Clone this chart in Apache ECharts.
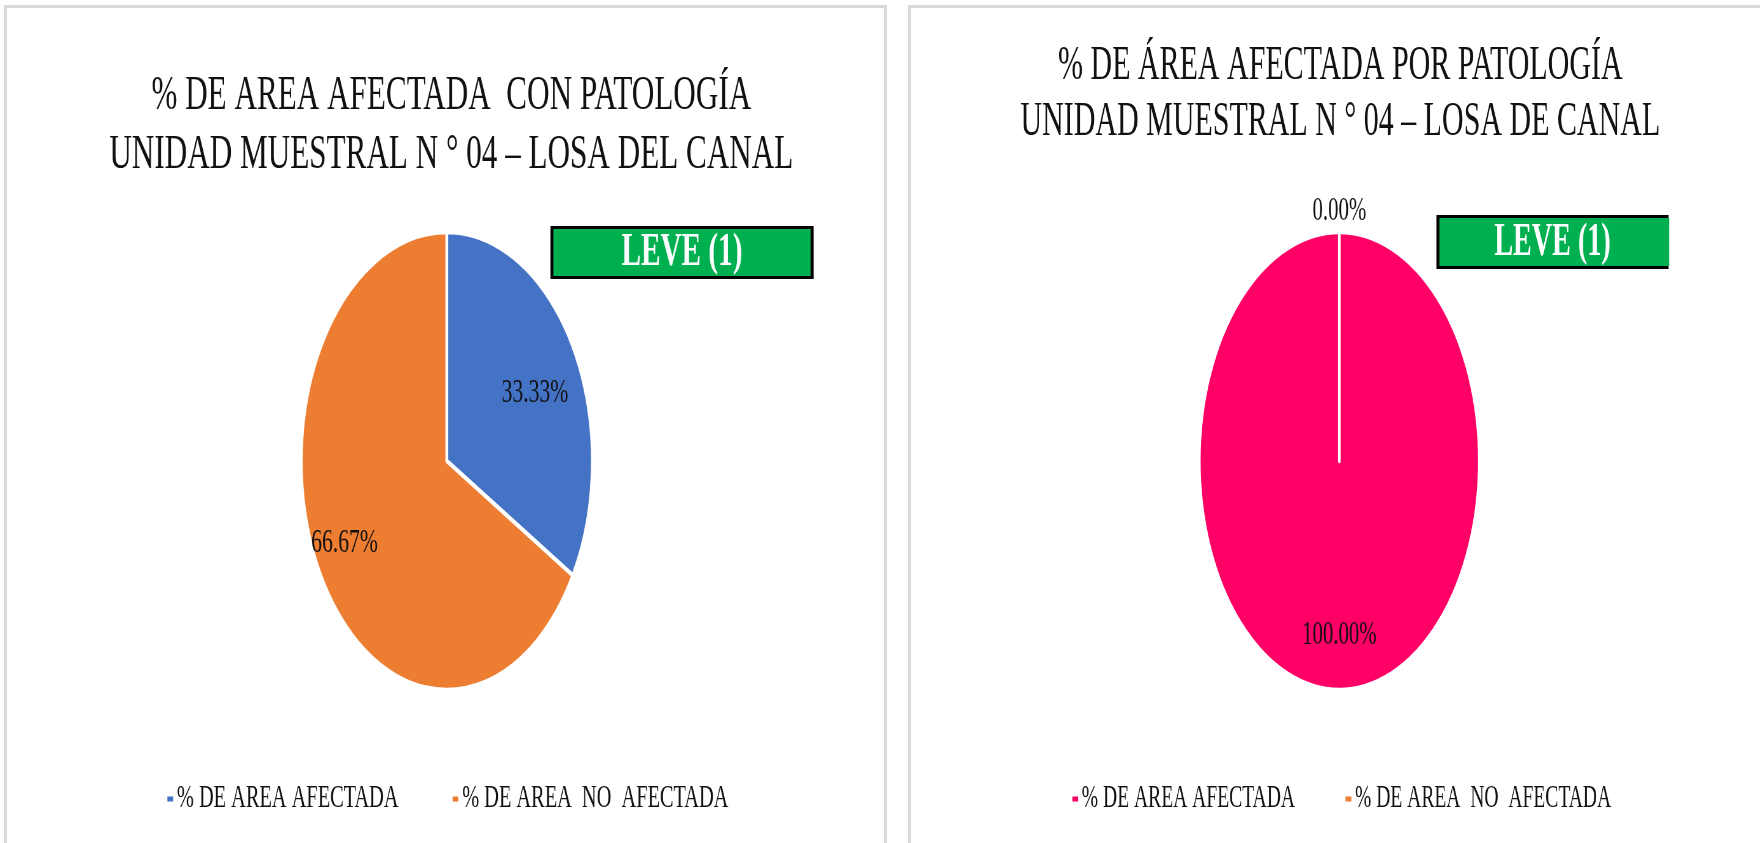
<!DOCTYPE html>
<html>
<head>
<meta charset="utf-8">
<script src="https://cdn.jsdelivr.net/npm/echarts@6/dist/echarts.min.js"></script>
<style>
  html, body { margin: 0; padding: 0; background: #fff; width: 1760px; height: 843px; overflow: hidden; }
  .frame { position: absolute; border: 3px solid #d9d9d9; box-sizing: border-box; }
  .panel { position: absolute; top: 0; height: 843px; overflow: hidden; }
  .chart { position: absolute; left: 0; top: 0; height: 843px; transform-origin: 0 0; }
</style>
</head>
<body>
<div class="frame" style="left:4px;top:5px;width:883px;height:900px"></div>
<div class="frame" style="left:908px;top:5px;width:900px;height:900px"></div>
<div class="panel" style="left:0;width:897px"><div class="chart" id="chartA"></div></div>
<div class="panel" style="left:897px;width:863px"><div class="chart" id="chartB"></div></div>

<script>
// ---- data ----
const legendNames = ['% DE AREA AFECTADA', '% DE AREA  NO  AFECTADA'];

const titleA = ['% DE AREA AFECTADA  CON PATOLOGÍA', 'UNIDAD MUESTRAL N ° 04 – LOSA DEL CANAL'];
const valuesA = [33.33, 66.67];
const colorsA = ['#4472C4', '#ED7D31'];

const titleB = ['% DE ÁREA AFECTADA POR PATOLOGÍA', 'UNIDAD MUESTRAL N ° 04 – LOSA DE CANAL'];
const valuesB = [100, 0];
const colorsB = ['#FF0066', '#ED7D31'];

const severityLabel = 'LEVE (1)';

// ---- layout (visible px, local to each panel) ----
// each chart is drawn wide and squeezed horizontally by 1/k, giving the tall oval pies
const layoutA = {
  width: 897, k: 1.574,
  titleX: 451, titleY: [96, 155],
  pieX: 446.5, pieY: 461, radius: 229,
  labelShift: [[23.5, -9], [-37.5, 23]],
  box: { x0: 550, x1: 813, y0: 226, y1: 279, openRight: false },
  legendX: [166, 451], legendY: 800
};
const layoutB = {
  width: 863, k: 1.636,
  titleX: 443, titleY: [66, 122],
  pieX: 442, pieY: 461, radius: 229,
  labelShift: [[0, 56.5], [0, -132]],
  box: { x0: 539, x1: 771, y0: 215, y1: 269, openRight: true },
  legendX: [174, 447], legendY: 800
};

const FONT = '"Liberation Serif", "Times New Roman", serif';

function buildPanel(el, lay, titleLines, values, colors) {
  const k = lay.k;
  const X = v => v * k;
  const W = lay.width * k;
  el.style.width = W + 'px';
  el.style.transform = 'scaleX(' + (1 / k) + ')';
  const chart = echarts.init(el, null, { renderer: 'canvas', width: W, height: 843 });

  const graphics = [];
  titleLines.forEach((t, i) => {
    graphics.push({
      type: 'text', x: X(lay.titleX), y: lay.titleY[i], silent: true,
      style: { text: t, fontFamily: FONT, fontSize: 49, fill: '#111', align: 'center', verticalAlign: 'middle' }
    });
  });

  // severity badge: black frame, green fill, white bold text
  const b = lay.box, bw = 3;
  graphics.push({
    type: 'rect', silent: true,
    shape: { x: X(b.x0), y: b.y0, width: X(b.x1 - b.x0), height: b.y1 - b.y0 },
    style: { fill: '#000' }
  });
  graphics.push({
    type: 'rect', silent: true,
    shape: {
      x: X(b.x0 + bw), y: b.y0 + bw,
      width: X(b.x1 - b.x0 - (b.openRight ? bw : 2 * bw)) + (b.openRight ? 1 : 0),
      height: b.y1 - b.y0 - 2 * bw
    },
    style: { fill: '#00B050' }
  });
  graphics.push({
    type: 'text', silent: true, x: X((b.x0 + b.x1) / 2), y: (b.y0 + b.y1) / 2 + 1,
    style: { text: severityLabel, fontFamily: FONT, fontSize: 46, fontWeight: 'bold', fill: '#fff', align: 'center', verticalAlign: 'middle' }
  });

  const legends = legendNames.map((n, i) => ({
    data: [n], left: X(lay.legendX[i]), top: lay.legendY - 17, padding: 0,
    icon: 'rect', itemWidth: X(7), itemHeight: 7, itemGap: 0, selectedMode: false,
    textStyle: { fontFamily: FONT, fontSize: 32, color: '#111' }
  }));

  chart.setOption({
    animation: false,
    color: colors,
    legend: legends,
    graphic: graphics,
    series: [{
      type: 'pie',
      center: [X(lay.pieX), lay.pieY],
      radius: lay.radius,
      startAngle: 90,
      clockwise: true,
      avoidLabelOverlap: false,
      silent: true,
      itemStyle: { borderColor: '#fff', borderWidth: 4.5 },
      label: {
        show: true, position: 'inside', color: '#111',
        fontFamily: FONT, fontSize: 34,
        formatter: p => p.value.toFixed(2) + '%'
      },
      labelLine: { show: false },
      labelLayout: p => ({ dx: X(lay.labelShift[p.dataIndex][0]), dy: lay.labelShift[p.dataIndex][1] }),
      emphasis: { disabled: true },
      data: legendNames.map((n, i) => ({ name: n, value: values[i] }))
    }]
  });
  return chart;
}

buildPanel(document.getElementById('chartA'), layoutA, titleA, valuesA, colorsA);
buildPanel(document.getElementById('chartB'), layoutB, titleB, valuesB, colorsB);
</script>
</body>
</html>
